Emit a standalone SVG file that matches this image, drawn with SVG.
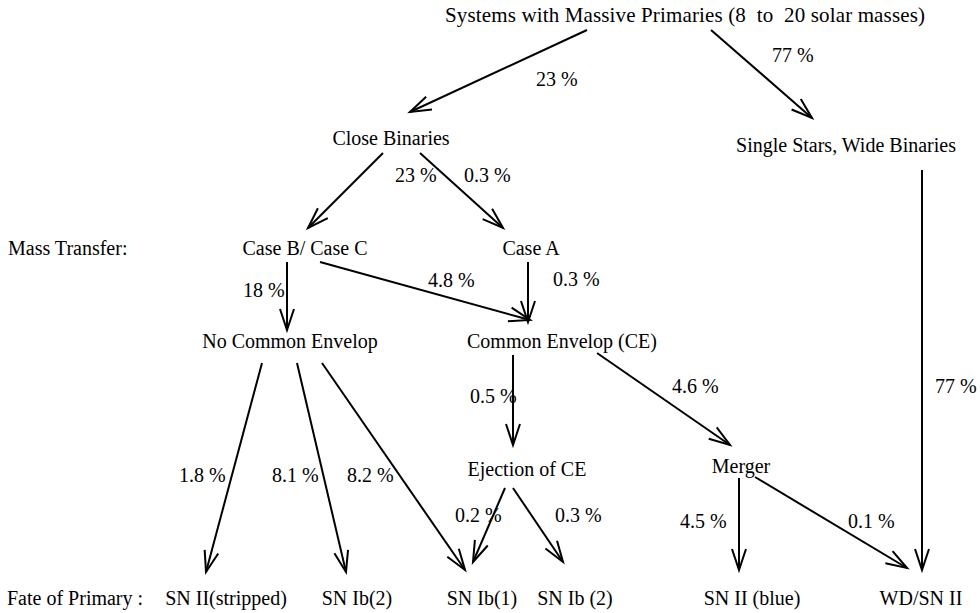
<svg xmlns="http://www.w3.org/2000/svg" width="980" height="613" viewBox="0 0 980 613">
<style>
text{font-family:"Liberation Serif","Times New Roman",Times,serif;font-size:20px;fill:#000}
.c line{stroke:#000;stroke-width:2;fill:none;marker-end:url(#ah)}
</style>
<defs>
<marker id="ah" markerUnits="userSpaceOnUse" markerWidth="30" markerHeight="20" viewBox="-24 -10 28 20" refX="0" refY="0" orient="auto">
<path d="M-21,-7 L0,0 L-21,7" fill="none" stroke="#000" stroke-width="2"/>
</marker>
</defs>
<rect width="980" height="613" fill="#fff"/>
<g id="top"><text x="445" y="22" textLength="480" lengthAdjust="spacing" style="font-size:21px" xml:space="preserve">Systems with Massive Primaries (8  to  20 solar masses)</text></g>
<g id="close"><text x="391" y="145" text-anchor="middle">Close Binaries</text></g>
<g id="single"><text x="846" y="152" text-anchor="middle">Single Stars, Wide Binaries</text></g>
<g id="masstransfer"><text x="8" y="255">Mass Transfer:</text></g>
<g id="casebc"><text x="305" y="255" text-anchor="middle">Case B/ Case C</text></g>
<g id="casea"><text x="531" y="255" text-anchor="middle">Case A</text></g>
<g id="nce"><text x="290" y="348" text-anchor="middle">No Common Envelop</text></g>
<g id="ce"><text x="562" y="348" text-anchor="middle">Common Envelop (CE)</text></g>
<g id="eject"><text x="527" y="476" text-anchor="middle">Ejection of CE</text></g>
<g id="merger"><text x="741" y="473" text-anchor="middle">Merger</text></g>
<g id="fate"><text x="7" y="605">Fate of Primary :</text></g>
<g id="snii_s"><text x="226" y="605" text-anchor="middle">SN II(stripped)</text></g>
<g id="snib2a"><text x="357" y="605" text-anchor="middle">SN Ib(2)</text></g>
<g id="snib1"><text x="482" y="605" text-anchor="middle">SN Ib(1)</text></g>
<g id="snib2b"><text x="575" y="605" text-anchor="middle">SN Ib (2)</text></g>
<g id="sniiblue"><text x="752" y="605" text-anchor="middle">SN II (blue)</text></g>
<g id="wdsnii"><text x="921" y="605" text-anchor="middle">WD/SN II</text></g>
<g id="connectors" class="c">
<line x1="587" y1="30" x2="410" y2="112"/>
<line x1="711" y1="30" x2="812" y2="118"/>
<line x1="383" y1="153" x2="308" y2="228"/>
<line x1="420" y1="153" x2="503" y2="228"/>
<line x1="287" y1="262" x2="287" y2="330"/>
<line x1="320" y1="262" x2="530" y2="320"/>
<line x1="528" y1="262" x2="528" y2="322"/>
<line x1="922" y1="170" x2="922" y2="570"/>
<line x1="262" y1="363" x2="206" y2="572"/>
<line x1="297" y1="363" x2="346" y2="572"/>
<line x1="322" y1="363" x2="465" y2="570"/>
<line x1="513" y1="355" x2="513" y2="445"/>
<line x1="597" y1="353" x2="730" y2="445"/>
<line x1="505" y1="488" x2="473" y2="562"/>
<line x1="513" y1="488" x2="563" y2="562"/>
<line x1="739" y1="478" x2="739" y2="570"/>
<line x1="755" y1="477" x2="907" y2="568"/>
</g>
<g id="labels">
<text x="536" y="86">23 %</text>
<text x="772" y="62">77 %</text>
<text x="395" y="182">23 %</text>
<text x="464" y="182">0.3 %</text>
<text x="243" y="297">18 %</text>
<text x="428" y="287">4.8 %</text>
<text x="553" y="286">0.3 %</text>
<text x="935" y="393">77 %</text>
<text x="179" y="482">1.8 %</text>
<text x="272" y="482">8.1 %</text>
<text x="347" y="482">8.2 %</text>
<text x="470" y="403">0.5 %</text>
<text x="672" y="393">4.6 %</text>
<text x="455" y="522">0.2 %</text>
<text x="555" y="522">0.3 %</text>
<text x="680" y="528">4.5 %</text>
<text x="848" y="528">0.1 %</text>
</g>
</svg>
